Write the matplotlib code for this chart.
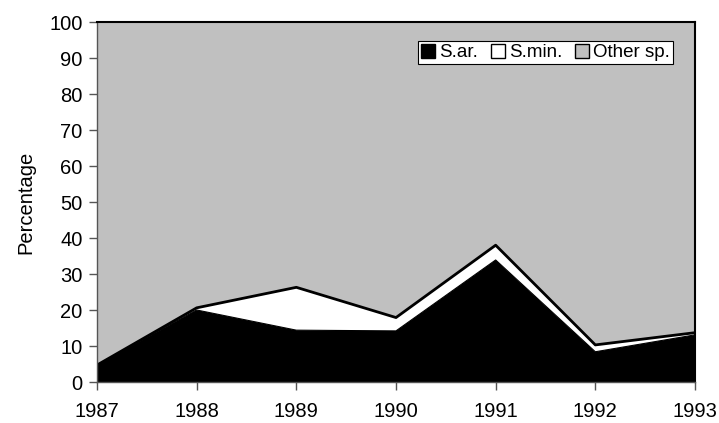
import matplotlib.pyplot as plt
from matplotlib.patches import Patch

plt.rcParams['font.family'] = ['Liberation Sans', 'DejaVu Sans']

years = [1987, 1988, 1989, 1990, 1991, 1992, 1993]
s_ar = [4.7, 20.0, 14.4, 14.2, 33.9, 8.4, 13.1]
s_min = [0.0, 0.6, 11.9, 3.7, 4.1, 1.9, 0.6]
labels = ['S.ar.', 'S.min.', 'Other sp.']
colors = ['black', 'white', '#c0c0c0']

total = [a + b for a, b in zip(s_ar, s_min)]
other = [100 - t for t in total]

fig = plt.figure(figsize=(7.19, 4.23), dpi=100)
ax = fig.add_axes([97 / 719, 41 / 423, 598 / 719, 360 / 423])

ax.stackplot(years, s_ar, s_min, other, colors=colors, linewidth=0)
ax.plot(years, total, color='black', linewidth=2)
ax.plot(years, s_ar, color='black', linewidth=0.8)

ax.set_xlim(1987, 1993)
ax.set_ylim(0, 100)
ax.set_yticks(range(0, 101, 10))
ax.set_xticks(years)
ax.tick_params(direction='out', length=5.5, width=1, labelsize=14.5,
               color='#555555')
ax.tick_params(axis='x', pad=9)
ax.tick_params(axis='y', pad=5)
ax.set_ylabel('Percentage', fontsize=14.5, labelpad=10)

for side in ['top', 'right']:
    ax.spines[side].set_linewidth(1.5)
    ax.spines[side].set_color('black')
for side in ['left', 'bottom']:
    ax.spines[side].set_linewidth(1)
    ax.spines[side].set_color('#555555')

handles = [Patch(facecolor=c, edgecolor='black', linewidth=1) for c in colors]
leg = ax.legend(handles, labels, loc='upper right', ncol=3, fontsize=13.5,
                frameon=True, fancybox=False, edgecolor='black',
                framealpha=1, handlelength=0.75, handleheight=0.75,
                handletextpad=0.2, columnspacing=0.7, borderpad=0.15,
                borderaxespad=0, bbox_to_anchor=(0.963, 0.947))
leg.get_frame().set_linewidth(0.8)

fig.savefig('out.png', dpi=100)
